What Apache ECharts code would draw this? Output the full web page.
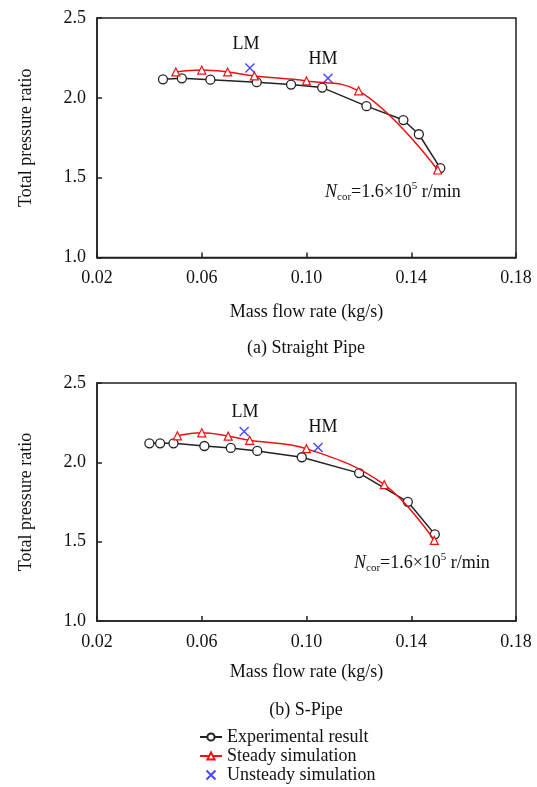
<!DOCTYPE html>
<html>
<head>
<meta charset="utf-8">
<script src="https://cdn.jsdelivr.net/npm/echarts@6/dist/echarts.min.js"></script>
<style>
    html, body { margin: 0; padding: 0; background: #fff; }
    #chart { width: 537px; height: 787px; }
</style>
</head>
<body>
<div id="chart"></div>
<script>
// (a) Straight Pipe
const expXA = [0.0452, 0.0524, 0.0633, 0.0810, 0.0941, 0.1060, 0.1229, 0.1370, 0.1429, 0.1511]
const expYA = [2.116, 2.122, 2.114, 2.098, 2.083, 2.064, 1.948, 1.861, 1.772, 1.560]
const steXA = [0.0501, 0.0600, 0.0699, 0.0801, 0.1000, 0.1199, 0.1501]
const steYA = [2.162, 2.174, 2.162, 2.137, 2.106, 2.044, 1.548]
const unsXA = [0.0784, 0.1082]
const unsYA = [2.187, 2.122]

// (b) S-Pipe
const expXB = [0.0400, 0.0441, 0.0492, 0.0610, 0.0711, 0.0812, 0.0982, 0.1201, 0.1387, 0.1490]
const expYB = [2.120, 2.120, 2.120, 2.103, 2.091, 2.072, 2.032, 1.932, 1.751, 1.546]
const steXB = [0.0507, 0.0600, 0.0701, 0.0783, 0.1000, 0.1297, 0.1488]
const steYB = [2.167, 2.186, 2.165, 2.139, 2.086, 1.859, 1.508]
const unsXB = [0.0762, 0.1044]
const unsYB = [2.194, 2.093]

const xTicks = [0.02, 0.06, 0.10, 0.14, 0.18]
const yTicks = [1.0, 1.5, 2.0, 2.5]

const FONT = 'Liberation Serif'
const AXIS = '#222'
const CROSS = 'path://M0,0L10,10M10,0L0,10'

let pairs = (xs, ys) => xs.map((x, i) => [x, ys[i]])

function xAxisOf(idx, gap) {
    return {
        type: 'value', gridIndex: idx,
        min: xTicks[0], max: xTicks[xTicks.length - 1], interval: 0.04,
        name: 'Mass flow rate (kg/s)', nameLocation: 'middle', nameGap: gap,
        nameTextStyle: { fontFamily: FONT, fontSize: 18, color: '#111' },
        axisLine: { show: true, lineStyle: { color: AXIS, width: 1.5 } },
        axisTick: { show: true, inside: true, length: 5, lineStyle: { color: AXIS, width: 1.5 } },
        axisLabel: { margin: 12, fontFamily: FONT, fontSize: 18, color: '#111', formatter: v => v.toFixed(2) },
        splitLine: { show: false }
    }
}

function yAxisOf(idx) {
    return {
        type: 'value', gridIndex: idx,
        min: yTicks[0], max: yTicks[yTicks.length - 1], interval: 0.5,
        name: 'Total pressure ratio', nameLocation: 'middle', nameGap: 62, nameRotate: 90,
        nameTextStyle: { fontFamily: FONT, fontSize: 18, color: '#111' },
        axisLine: { show: true, lineStyle: { color: AXIS, width: 1.5 } },
        axisTick: { show: true, inside: true, length: 5, lineStyle: { color: AXIS, width: 1.5 } },
        axisLabel: { margin: 11, fontFamily: FONT, fontSize: 18, color: '#111', formatter: v => v.toFixed(1) },
        splitLine: { show: false }
    }
}

function seriesOf(idx, ex, ey, sx, sy, ux, uy) {
    return [
        {
            name: 'Experimental result', type: 'line', xAxisIndex: idx, yAxisIndex: idx,
            data: pairs(ex, ey), symbol: 'circle', symbolSize: 9,
            itemStyle: { color: '#fff', borderColor: '#222', borderWidth: 1.3 },
            lineStyle: { color: '#222', width: 1.5 }, z: 3
        },
        {
            name: 'Steady simulation', type: 'line', xAxisIndex: idx, yAxisIndex: idx,
            data: pairs(sx, sy), symbol: 'triangle', symbolSize: 8, smooth: 0.4,
            itemStyle: { color: '#fff', borderColor: '#f01010', borderWidth: 1.2 },
            lineStyle: { color: '#f01010', width: 1.5 }, z: 4
        },
        {
            name: 'Unsteady simulation', type: 'scatter', xAxisIndex: idx, yAxisIndex: idx,
            data: pairs(ux, uy), symbol: CROSS, symbolSize: 9,
            itemStyle: { color: 'rgba(0,0,0,0)', borderColor: '#1a1aff', borderWidth: 1.4 }, z: 5
        }
    ]
}

let txt = (x, y, s) => ({
    type: 'text', x: x, y: y,
    style: { text: s, fontFamily: FONT, fontSize: 18, fill: '#111', align: 'center', verticalAlign: 'middle' }
})

function ncor(x, y) {
    return {
        type: 'text', x: x, y: y,
        style: {
            text: '{n|N}{sub|cor}{t|=1.6×10}{sup|5}{t| r/min}',
            fontFamily: FONT, fontSize: 18, fill: '#111', verticalAlign: 'middle',
            rich: {
                n: { fontFamily: FONT, fontSize: 18, fontStyle: 'italic', lineHeight: 22, fill: '#111' },
                t: { fontFamily: FONT, fontSize: 18, lineHeight: 22, fill: '#111' },
                sub: { fontFamily: FONT, fontSize: 11, lineHeight: 12, verticalAlign: 'bottom', fill: '#111' },
                sup: { fontFamily: FONT, fontSize: 11, lineHeight: 12, verticalAlign: 'top', fill: '#111' }
            }
        }
    }
}

let myChart = echarts.init(document.getElementById('chart'))
let option = {
    backgroundColor: '#fff',
    animation: false,
    grid: [
        { left: 97, right: 21, top: 18, height: 239.5, show: true, borderColor: AXIS, borderWidth: 1.5 },
        { left: 97, right: 21, top: 383, height: 238, show: true, borderColor: AXIS, borderWidth: 1.5 }
    ],
    xAxis: [xAxisOf(0, 46), xAxisOf(1, 42)],
    yAxis: [yAxisOf(0), yAxisOf(1)],
    legend: {
        orient: 'vertical', left: 199, top: 728, padding: 0,
        itemWidth: 22, itemHeight: 9, itemGap: 1,
        data: ['Experimental result', 'Steady simulation', 'Unsteady simulation'],
        textStyle: { fontFamily: FONT, fontSize: 18, color: '#111', lineHeight: 18 }
    },
    graphic: [
        txt(246, 44, 'LM'),
        txt(323, 59, 'HM'),
        ncor(325, 192),
        txt(306, 348, '(a) Straight Pipe'),
        txt(245, 412, 'LM'),
        txt(323, 427, 'HM'),
        ncor(354, 563),
        txt(306, 710, '(b) S-Pipe')
    ],
    series: [
        ...seriesOf(0, expXA, expYA, steXA, steYA, unsXA, unsYA),
        ...seriesOf(1, expXB, expYB, steXB, steYB, unsXB, unsYB)
    ]
}
myChart.setOption(option)
</script>
</body>
</html>
